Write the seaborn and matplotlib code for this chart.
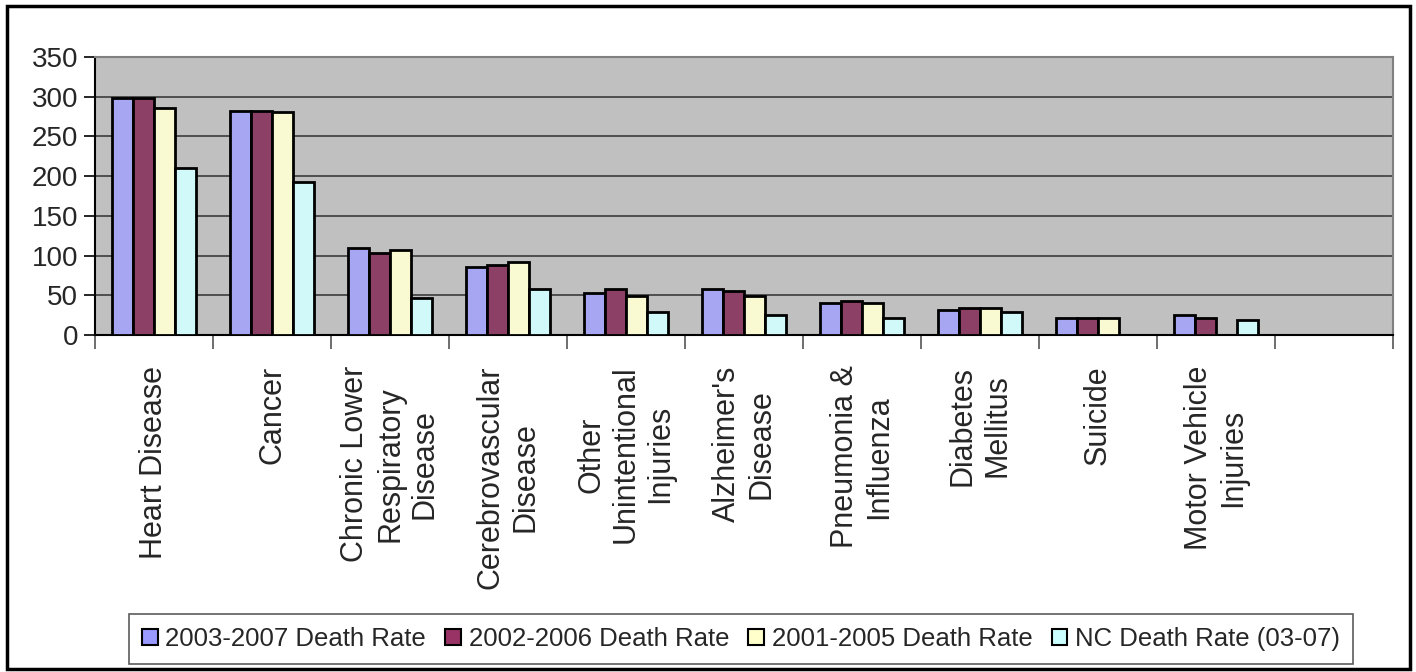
import pandas as pd
import numpy as np
import matplotlib
matplotlib.use("Agg")
import matplotlib.pyplot as plt
import seaborn as sns
from matplotlib.patches import Rectangle

# Dados
causes = ["Heart Disease", "Cancer", "Chronic Lower\nRespiratory\nDisease",
          "Cerebrovascular\nDisease", "Other\nUnintentional\nInjuries",
          "Alzheimer's\nDisease", "Pneumonia &\nInfluenza", "Diabetes\nMellitus",
          "Suicide", "Motor Vehicle\nInjuries"]
series = ["2003-2007 Death Rate", "2002-2006 Death Rate",
          "2001-2005 Death Rate", "NC Death Rate (03-07)"]
rate_0307 = [298, 282.5, 109, 86, 52.5, 58, 40.7, 31, 22, 25]
rate_0206 = [298, 282, 103.7, 88, 58.4, 55.4, 43.2, 34.4, 22, 22]
rate_0105 = [285.5, 280.5, 107, 91.5, 49.5, 49.5, 40.7, 34.4, 22, np.nan]
rate_nc = [210, 192, 46, 58, 28.5, 25, 22, 28.5, np.nan, 19]
colors = ["#9999FF", "#993366", "#FFFFCC", "#CCFFFF"]

rows = []
for s, vals in zip(series, [rate_0307, rate_0206, rate_0105, rate_nc]):
    for c, v in zip(causes, vals):
        rows.append({"cause": c, "series": s, "rate": v})
df = pd.DataFrame(rows)

sns.set_style("white")
plt.rcParams["font.family"] = ["Liberation Sans", "DejaVu Sans"]

fig = plt.figure(figsize=(14.16, 6.72), dpi=100)
ax = fig.add_axes([95/1416, 1-335/672, (1393-95)/1416, (335-57)/672])

sns.barplot(data=df, x="cause", y="rate", hue="series", order=causes,
            hue_order=series, palette=colors, width=0.72, gap=0,
            edgecolor="black", linewidth=2, errorbar=None, ax=ax, zorder=3)

ax.set_facecolor("#C0C0C0")
ax.set_xlim(-0.5, 10.5)
ax.set_ylim(0, 350)
ax.set_yticks(range(0, 351, 50))
ax.yaxis.grid(True, color="#303030", linewidth=1.1, zorder=0)
ax.set_axisbelow(True)
ax.set_xlabel("")
ax.set_ylabel("")

# ticks entre categorias, rotulos no centro
ax.set_xticks(np.arange(-0.5, 10.6, 1))
ax.set_xticklabels([])
ax.set_xticks(range(len(causes)), minor=True)
ax.set_xticklabels(causes, minor=True, rotation=90, ha="center", va="top",
                   multialignment="center", fontsize=22)
ax.tick_params(axis="x", which="major", direction="out", length=10,
               width=1.2, color="#555555", bottom=True)
ax.tick_params(axis="x", which="minor", length=0, pad=22, bottom=True)
ax.tick_params(axis="y", direction="out", length=8, width=1.2,
               color="black", labelsize=20, pad=4, left=True)

for side in ["top", "right"]:
    ax.spines[side].set_visible(True)
    ax.spines[side].set_color("#808080")
    ax.spines[side].set_linewidth(1.5)
for side in ["left", "bottom"]:
    ax.spines[side].set_color("black")
    ax.spines[side].set_linewidth(1.5)

ax.legend_.remove()
handles = [Rectangle((0, 0), 1, 1, facecolor=c, edgecolor="black", linewidth=1.5)
           for c in colors]
leg = fig.legend(handles, series, loc="center", bbox_to_anchor=(741/1416, 1-639/672),
                 ncol=4, fontsize=18.5, frameon=True, fancybox=False,
                 handlelength=0.6, handleheight=0.6, handletextpad=0.3,
                 columnspacing=0.75, borderpad=0.5)
leg.get_frame().set_edgecolor("#333333")
leg.get_frame().set_linewidth(1.2)

fig.patches.append(Rectangle((7/1416, 1-669/672), 1403/1416, 663/672,
                             transform=fig.transFigure, fill=False,
                             edgecolor="black", linewidth=2.5))

fig.savefig("out.png", dpi=100)
